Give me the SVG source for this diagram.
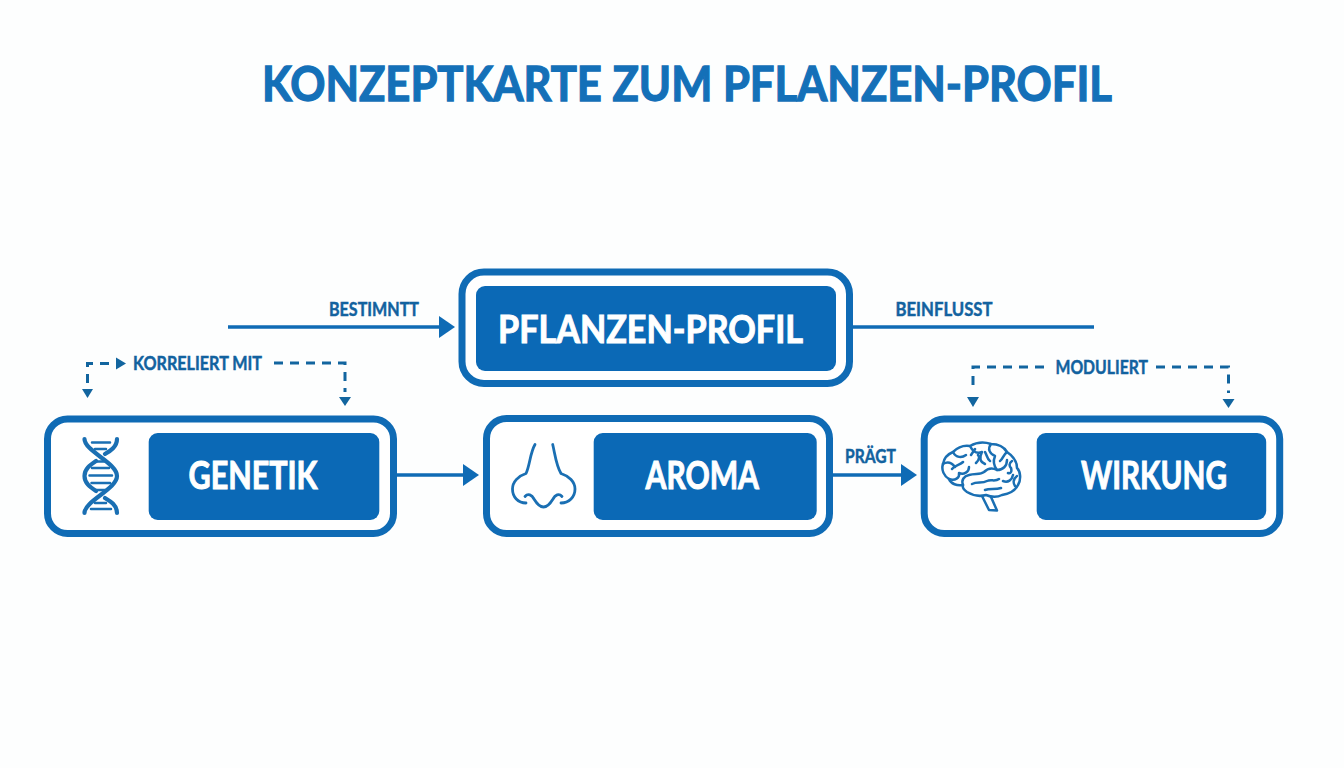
<svg xmlns="http://www.w3.org/2000/svg" width="1344" height="768" viewBox="0 0 1344 768">
<style>
text{font-family:"Lato","Noto Sans","Liberation Sans",sans-serif;font-weight:700}
.title{font-size:47px;fill:#1470b8;stroke:#1470b8;stroke-width:1.300px}
.nodeT{font-size:38px;fill:#fff;stroke:#fff;stroke-width:1px}
.lab{font-size:18.500px;fill:#12629f;stroke:#12629f;stroke-width:.45px}
.outer{fill:#fff;stroke:#0f6bb5;stroke-width:7}
.inner{fill:#0b69b6}
.conn{fill:none;stroke:#0f6bb5;stroke-width:3.500}
.dash{fill:none;stroke:#12659f;stroke-width:3;stroke-dasharray:9 7}
.head{fill:#0f6bb5}
.dhead{fill:#12659f}
.icon{fill:none;stroke:#1a6fb3;stroke-linecap:round;stroke-linejoin:round}
</style>
<rect width="1344" height="768" fill="#fdfefe"/>
<text class="title" x="262" y="101" textLength="850" lengthAdjust="spacingAndGlyphs">KONZEPTKARTE ZUM PFLANZEN-PROFIL</text>
<g id="connectors">
<path class="conn" d="M228 327H442"/><path class="head" d="M439 316L455 327L439 338Z"/>
<path class="conn" d="M853 327H1094"/>
<path class="conn" d="M397 475H466"/><path class="head" d="M463 464L479 475L463 486Z"/>
<path class="conn" d="M833 475H903"/><path class="head" d="M901 464L917 475L901 486Z"/>
<path class="dash" d="M87.500 383V363.500H118"/><path class="dhead" d="M116 357.500L126 363.500L116 369.500Z"/><path class="dhead" d="M82 389H93L87.500 398Z"/>
<path class="dash" d="M274 363H345V392"/><path class="dhead" d="M339 397H351L345 406Z"/>
<path class="dash" d="M1044 367H973V391"/><path class="dhead" d="M967 397H979L973 407Z"/>
<path class="dash" d="M1156 367H1228.500V393"/><path class="dhead" d="M1222.500 399H1234.500L1228.500 408Z"/>
<text class="lab" x="329" y="316" textLength="90" lengthAdjust="spacingAndGlyphs">BESTIMNTT</text>
<text class="lab" x="895.500" y="316" textLength="97" lengthAdjust="spacingAndGlyphs">BEINFLUSST</text>
<text class="lab" x="133" y="370" textLength="129" lengthAdjust="spacingAndGlyphs">KORRELIERT MIT</text>
<text class="lab" x="1055.500" y="374" textLength="92.500" lengthAdjust="spacingAndGlyphs">MODULIERT</text>
<text class="lab" x="845" y="463" textLength="51" lengthAdjust="spacingAndGlyphs">PRÄGT</text>
</g>
<g id="node-profil">
<rect class="outer" x="462" y="272" width="387.500" height="111.500" rx="22"/>
<rect class="inner" x="476" y="286" width="360" height="85" rx="9"/>
<text class="nodeT" x="498" y="343" textLength="305" lengthAdjust="spacingAndGlyphs">PFLANZEN-PROFIL</text>
</g>
<g id="node-genetik">
<rect class="outer" x="47.500" y="419" width="346" height="114.500" rx="20"/>
<rect class="inner" x="148.700" y="433" width="230.600" height="87" rx="9"/>
<text class="nodeT" x="188.500" y="489" textLength="129" lengthAdjust="spacingAndGlyphs">GENETIK</text>
<g class="icon" stroke-width="4.200">
<path d="M84.500 439C84.500 451 117 463 117 476C117 489 84.500 501 84.500 513"/>
<path d="M117 439C117 447 110 451 105 454M96 461C90 465 84.500 469 84.500 476C84.500 483 90 487 96 491M105 498C110 501 117 505 117 513"/>
<path stroke-width="2.500" d="M92 442.500H110M95 449H106M97 461.500H104M92 468H109M89.500 475.500H112M91.500 483H110M96 490H105M95 503H106M91 509H111"/>
</g>
</g>
<g id="node-aroma">
<rect class="outer" x="486.500" y="418.500" width="343" height="115" rx="20"/>
<rect class="inner" x="593.700" y="433" width="223" height="87" rx="9"/>
<text class="nodeT" x="645.500" y="489" textLength="113.500" lengthAdjust="spacingAndGlyphs">AROMA</text>
<g class="icon" stroke-width="2.800">
<path d="M535 444.500C530 453 530 465 526 473.500C518 476 512.500 482 512.500 489C512.500 497 518 503 526 503"/>
<path d="M552.700 444.500C555 454 556 465 561 473.500C569 476 575 482 575 489C575 497 569 503 561 503"/>
<path d="M525 496.500C528 493 532 495 534 499C537 504 540 507 543.500 507C547 507 550 504 553 499C555 495 559 493 562 496.500"/>
</g>
</g>
<g id="node-wirkung">
<rect class="outer" x="924.200" y="419" width="355.500" height="114.500" rx="20"/>
<rect class="inner" x="1036.700" y="433" width="229.500" height="87" rx="9"/>
<text class="nodeT" x="1081" y="489" textLength="146" lengthAdjust="spacingAndGlyphs">WIRKUNG</text>
<g class="icon" stroke-width="2.500">
<path d="M963 485C957 486 951 484 949 479C944 476 941 470 943 464C944 458 948 454 953 452C958 447 964 445 970 446C977 442 985 442 991 444C998 444 1004 447 1007 452C1013 456 1017 462 1017 468C1021 472 1021 480 1018 485C1015 491 1008 494 1002 495C996 498 991 497 986 495C979 497 972 495 967 492C964 490 962 488 963 485Z"/>
<path d="M963 485C961 480 964 476 969 475C975 473 980 475 984 472C988 468 993 468 997 470C1003 470 1007 466 1007 460"/>
<path d="M982 496L989 510L997 510.500L991 497"/>
<path d="M949 479C955 481 960 478 959 473C964 475 969 472 969 467M943 464C948 461 952 463 955 467M953 452C956 458 962 458 966 455M970 446C973 452 977 454 982 452C979 458 980 462 985 464M991 444C987 449 990 454 995 456C993 461 993 465 997 470M1007 452C1003 455 1003 459 1000 461"/>
<path d="M972 484C977 481 982 484 987 481C991 479 995 482 999 479M1003 481C1008 483 1012 480 1013 475M1008 473C1011 474 1012 471 1011 468M976 463C979 460 980 457 978 455M1001 488C995 490 990 488 985 490M963 462C960 465 955 465 952 469M975 449L971 455M1012 461C1009 463 1009 466 1011 468M1017 476C1013 479 1013 483 1015 486M990 461C987 459 987 455 985 452"/>
</g>
</g>
</svg>
